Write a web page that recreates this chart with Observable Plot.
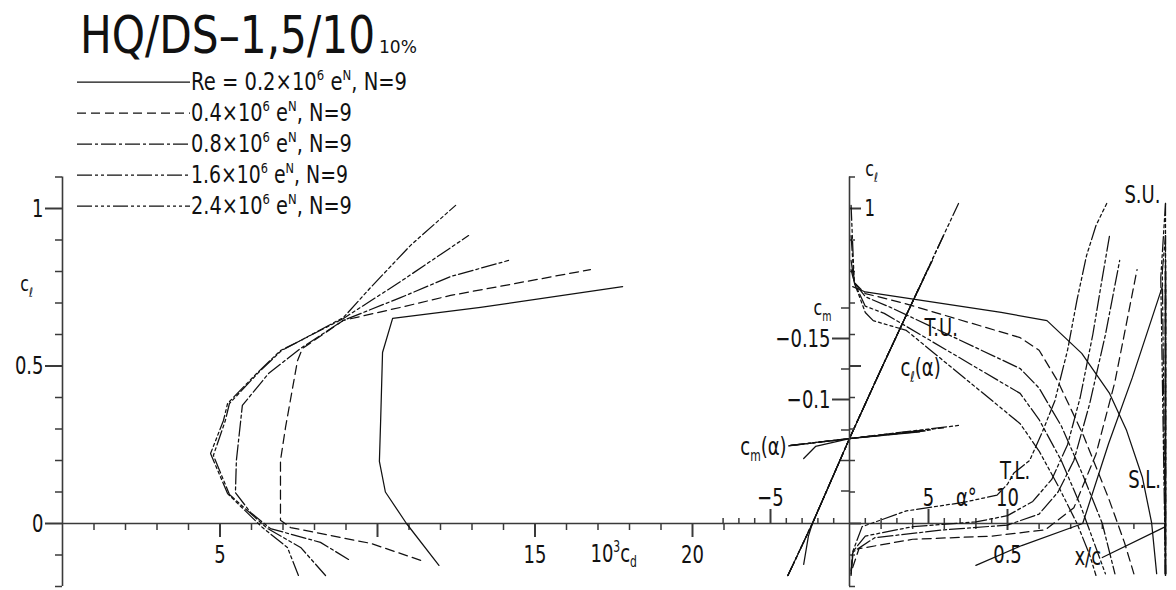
<!DOCTYPE html>
<html>
<head>
<meta charset="utf-8">
<script src="https://cdn.jsdelivr.net/npm/d3@7"></script>
<script src="https://cdn.jsdelivr.net/npm/@observablehq/plot@0.6"></script>
<style>
  html, body { margin: 0; background: #fff; }
  #chart { position: relative; width: 1176px; height: 590px; overflow: hidden; background: #fff; }
  #chart svg { position: absolute; left: 0; top: 0; }
</style>
</head>
<body>
<div id="chart"></div>
<script>
// ---- section name and test conditions ----
const airfoil = "HQ/DS–1,5/10";
const thickness = "10%";
const reynolds = ["0.2", "0.4", "0.8", "1.6", "2.4"];           // Re ×10^6, e^N with N = 9
const dashes = [null, "9,5", "15,3,3,3", "15,3,3,3,3,3", "15,3,3,3,3,3,3,3"];

// ---- drag polar: 10^3 cd against cl ----
const polarCd = [
  [11.95, 10.92, 10.25, 10.06, 10.10, 10.16, 10.48, 13.27, 17.78],
  [11.37, 9.78, 8.50, 7.24, 6.92, 6.92, 7.08, 7.46, 7.62, 8.92, 10.73, 12.32, 16.76],
  [9.08, 8.19, 6.60, 5.97, 5.49, 5.52, 5.71, 6.54, 7.56, 8.92, 10.73, 12.32, 14.16],
  [8.35, 7.56, 6.51, 5.30, 4.79, 5.17, 5.30, 6.22, 6.95, 7.56, 8.92, 10.73, 12.89],
  [7.49, 7.14, 6.35, 5.24, 4.70, 5.11, 5.24, 6.19, 6.92, 7.56, 8.92, 9.78, 11.05, 12.48]
];
const polarCl = [
  [-0.133, 0, 0.10, 0.197, 0.327, 0.543, 0.651, 0.686, 0.752],
  [-0.117, -0.063, -0.038, -0.013, 0.01, 0.2, 0.305, 0.517, 0.556, 0.645, 0.686, 0.724, 0.806],
  [-0.114, -0.06, -0.016, 0.035, 0.098, 0.2, 0.375, 0.476, 0.556, 0.645, 0.717, 0.784, 0.835],
  [-0.165, -0.076, -0.016, 0.092, 0.216, 0.327, 0.381, 0.479, 0.549, 0.581, 0.651, 0.768, 0.914],
  [-0.165, -0.076, -0.013, 0.095, 0.222, 0.327, 0.381, 0.479, 0.549, 0.581, 0.654, 0.749, 0.883, 1.01]
];

// ---- lift curve: alpha (deg) against cl ----
const liftAlpha = [
  [-2.9, -2.6, -2.35, 0, 2, 4, 4.45],
  [-3.9, -2.35, 0, 2, 4, 4.95],
  [-3.9, -2.35, 0, 2, 4, 5.25],
  [-3.9, -2.35, 0, 2, 4, 5.95],
  [-3.9, -2.35, 0, 2, 4, 6.9]
];
const liftCl = [
  [-0.13, -0.04, 0, 0.27, 0.49, 0.705, 0.752],
  [-0.165, 0, 0.27, 0.49, 0.705, 0.806],
  [-0.165, 0, 0.27, 0.49, 0.705, 0.835],
  [-0.165, 0, 0.27, 0.49, 0.705, 0.914],
  [-0.165, 0, 0.27, 0.49, 0.705, 1.016]
];

// ---- pitching moment: alpha (deg) against cm ----
const momentAlpha = [
  [-2.9, -2.15, 0, 4.45],
  [-3.7, 0, 4.95],
  [-3.75, 0, 5.25],
  [-3.8, 0, 5.95],
  [-3.85, 0, 6.9]
];
const momentCm = [
  [-0.0516, -0.0615, -0.068, -0.0735],
  [-0.0623, -0.068, -0.0745],
  [-0.0623, -0.068, -0.0752],
  [-0.0622, -0.068, -0.0768],
  [-0.062, -0.068, -0.0787]
];

// ---- transition on the upper surface (T.U.): x/c against cl ----
const tuXc = [
  [0.01, 0.05, 0.48, 0.625, 0.735, 0.823, 0.877, 0.927, 0.956, 0.972],
  [0.005, 0.015, 0.05, 0.17, 0.54, 0.6, 0.66, 0.74, 0.82, 0.87, 0.9],
  [0.005, 0.015, 0.05, 0.13, 0.54, 0.6, 0.67, 0.74, 0.8, 0.84],
  [0.005, 0.015, 0.05, 0.11, 0.54, 0.6, 0.67, 0.73, 0.77, 0.81],
  [0.005, 0.015, 0.05, 0.075, 0.18, 0.54, 0.6, 0.66, 0.72, 0.76, 0.78]
];
const tuCl = [
  [0.752, 0.735, 0.67, 0.644, 0.54, 0.413, 0.295, 0.146, 0.003, -0.159],
  [0.806, 0.765, 0.73, 0.70, 0.59, 0.55, 0.45, 0.28, 0.08, -0.06, -0.16],
  [0.835, 0.765, 0.72, 0.686, 0.492, 0.43, 0.31, 0.15, 0.0, -0.16],
  [0.914, 0.765, 0.69, 0.667, 0.413, 0.33, 0.2, 0.06, -0.05, -0.16],
  [1.01, 0.765, 0.67, 0.644, 0.613, 0.317, 0.23, 0.12, 0.0, -0.1, -0.165]
];

// ---- transition on the lower surface (T.L.) ----
const tlXc = [
  [0.4, 0.545, 0.738, 0.82, 0.895, 0.99],
  [0.01, 0.03, 0.2, 0.45, 0.62, 0.71, 0.78, 0.84, 0.91],
  [0.005, 0.012, 0.08, 0.3, 0.5, 0.6, 0.66, 0.71, 0.76, 0.81, 0.855],
  [0.005, 0.01, 0.05, 0.2, 0.4, 0.5, 0.58, 0.64, 0.69, 0.73, 0.77, 0.8, 0.823],
  [0.005, 0.01, 0.04, 0.18, 0.36, 0.467, 0.5, 0.52, 0.57, 0.61, 0.65, 0.69, 0.72, 0.75, 0.78, 0.814]
];
const tlCl = [
  [-0.133, -0.07, 0, 0.254, 0.463, 0.752],
  [-0.14, -0.08, -0.05, -0.04, -0.02, 0.05, 0.22, 0.45, 0.806],
  [-0.15, -0.09, -0.045, -0.02, -0.005, 0.03, 0.1, 0.2, 0.38, 0.6, 0.835],
  [-0.16, -0.09, -0.04, -0.01, 0.005, 0.025, 0.07, 0.14, 0.25, 0.4, 0.6, 0.78, 0.914],
  [-0.165, -0.09, -0.01, 0.04, 0.067, 0.09, 0.125, 0.16, 0.2, 0.29, 0.39, 0.55, 0.71, 0.85, 0.946, 1.016]
];

// ---- laminar separation, upper (S.U.) and lower (S.L.) surface ----
const suXc = [[1, 1], [1, 1], [1, 1], [1, 0.99, 1], [1, 0.985, 1]];
const suCl = [[-0.159, 0.752], [-0.16, 0.806], [-0.16, 0.835], [-0.16, 0.8, 0.914], [-0.165, 0.78, 1.016]];
const slXc = [[0.8, 1, 1], [1, 1], [1, 1], [1, 1], [1, 1]];
const slCl = [[-0.108, -0.01, 0.752], [-0.16, 0.806], [-0.16, 0.835], [-0.16, 0.914], [-0.165, 1.016]];

// ---- axis ticks ----
const clMinor = [-0.2, -0.1, 0.1, 0.2, 0.3, 0.4, 0.6, 0.7, 0.8, 0.9, 1.1];
const clMajor = [0, 0.5, 1];
const clLabels = ["0", "0.5", "1"];
const cdMinor = [1, 2, 3, 4, 6, 7, 8, 9, 11, 12, 13, 14, 16, 17, 18, 19, 21];
const cdMajor = [5, 10, 15, 20];
const cdLabelAt = [5, 15, 20];
const alphaMinor = [-8, -7, -6, -4, -3, -2, -1, 1, 2, 3, 4, 6, 7, 8, 9];
const alphaMajor = [-5, 5, 10];
const alphaLabels = ["−5", "5", "10"];
const cmMinor = [-0.175, -0.125, -0.075, -0.05, -0.025];
const cmMajor = [-0.15, -0.1];
const cmLabels = ["−0.15", "−0.1"];
const xcMinor = [0.1, 0.2, 0.3, 0.4, 0.6, 0.7, 0.8, 0.9];
const xcMajor = [0.5];

// ---------------------------------------------------------------
const FONT = "'DejaVu Sans', sans-serif";
const ink = "#111";
const axisInk = "#3a3a3a";
const W = 1176, H = 590;
const clY = {domain: [0, 1], range: [523, 208]};
const alphaX = {domain: [0, 10], range: [849, 1007]};

const zip = (xs, ys) => xs.map((x, i) => ({x, y: ys[i]}));
const family = (xs, ys) => reynolds.map((re, i) =>
  Plot.line(zip(xs[i], ys[i]), {x: "x", y: "y", stroke: ink, strokeWidth: 1.25,
    strokeDasharray: dashes[i] ?? undefined}));

// short tick marks on a vertical axis (left / right reach in px)
const hTicks = (values, at, left, right, w = 1.5) => Plot.ruleY(values,
  {y: d => d, x1: at, x2: at, insetLeft: -left, insetRight: -right, stroke: axisInk, strokeWidth: w});
// short tick marks on a horizontal axis (up / down reach in px)
const vTicks = (values, at, up, down, w = 1.5) => Plot.ruleX(values,
  {x: d => d, y1: at, y2: at, insetTop: -up, insetBottom: -down, stroke: axisInk, strokeWidth: w});
const label = (text, x, y, opts = {}) => Plot.text([text], {x, y, text: d => d, fill: ink, fontSize: 25, ...opts});

function layer(x, y, marks) {
  return Plot.plot({
    width: W, height: H,
    x: {...x, axis: null},
    y: {...y, axis: null},
    style: {background: "transparent", overflow: "visible", fontFamily: FONT},
    marks
  });
}

// turn _x / ^x into sub- and superscripts
function scripts(t) {
  const s = t.textContent;
  if (!/[_^]/.test(s)) return;
  t.textContent = "";
  const re = /([_^])(.)|([^_^]+)/g;
  let m, cur = 0;
  while ((m = re.exec(s))) {
    const ts = document.createElementNS("http://www.w3.org/2000/svg", "tspan");
    if (m[3]) {
      ts.textContent = m[3];
      ts.setAttribute("dy", -cur); cur = 0;
    } else {
      const off = m[1] === "_" ? 6 : -10;
      ts.textContent = m[2];
      ts.setAttribute("dy", off - cur); cur = off;
      ts.style.fontSize = "0.6em";
    }
    t.appendChild(ts);
  }
}

// narrow the glyphs horizontally, like a drafting stencil font
function typeset(svg, squeeze) {
  svg.querySelectorAll("text").forEach(t => {
    scripts(t);
    const tr = t.getAttribute("transform");
    if (tr) t.setAttribute("transform", tr + ` scale(${squeeze},1)`);
  });
  return svg;
}

const axisLine = {stroke: axisInk, strokeWidth: 1.6};

// drag polar
const polar = layer({domain: [0, 20], range: [62, 692]}, clY, [
  Plot.ruleX([0], {y1: -0.2, y2: 1.1, ...axisLine}),
  Plot.ruleY([0], {x1: 0, x2: 21, ...axisLine}),
  hTicks(clMinor, 0, 7, 0), hTicks(clMajor, 0, 17, 0, 2),
  vTicks(cdMinor, 0, 0, 7), vTicks(cdMajor, 0, 0, 14, 2),
  Plot.text(clMajor, {x: 0, y: d => d, text: (d, i) => clLabels[i], dx: -19, textAnchor: "end", fontSize: 25, fill: ink}),
  Plot.text(cdLabelAt, {x: d => d, y: 0, text: d => String(d), dy: 31, fontSize: 25, fill: ink}),
  label("c_ℓ", 0, 0.762, {dx: -36, fontSize: 22}),
  label("10^3c_d", 16.76, 0, {dy: 30, textAnchor: "start"}),
  ...family(polarCd, polarCl)
]);

// lift curve
const lift = layer(alphaX, clY, [
  Plot.ruleY([0], {x1: -8, x2: 0, ...axisLine}),
  vTicks(alphaMinor, 0, 5, 0), vTicks(alphaMajor, 0, 14, 0, 2),
  Plot.text(alphaMajor, {x: d => d, y: 0, text: (d, i) => alphaLabels[i], dy: -26, fontSize: 25, fill: ink}),
  label("α°", 7.4, 0, {dy: -26}),
  label("c_ℓ(α)", 4.5, 0.495),
  ...family(liftAlpha, liftCl)
]);

// pitching moment
const moment = layer(alphaX, {domain: [0, -0.1], range: [521, 399]}, [
  hTicks(cmMinor, 0, 8, 0), hTicks(cmMajor, 0, 17, 0, 2),
  Plot.text(cmMajor, {x: 0, y: d => d, text: (d, i) => cmLabels[i], dx: -19, textAnchor: "end", fontSize: 25, fill: ink}),
  label("c_m", 0, -0.175, {dx: -27, fontSize: 22}),
  label("c_m(α)", -3.92, -0.0607, {textAnchor: "end", dx: -1}),
  ...family(momentAlpha, momentCm)
]);

// transition and separation positions
const transition = layer({domain: [0, 1], range: [849, 1165]}, clY, [
  Plot.ruleX([0], {y1: -0.2, y2: 1.1, ...axisLine}),
  Plot.ruleY([0], {x1: 0, x2: 1, ...axisLine}),
  hTicks(clMinor, 0, 0, 6), hTicks(clMajor, 0, 0, 12, 2),
  vTicks(xcMinor, 0, 0, 6), vTicks(xcMajor, 0, 0, 7, 2),
  label("1", 0, 1, {dx: 15, textAnchor: "start", fontSize: 23}),
  label("c_ℓ", 0.07, 1.127, {fontSize: 22}),
  label("T.U.", 0.29, 0.622),
  label("T.L.", 0.524, 0.168),
  label("S.U.", 0.927, 1.044),
  label("S.L.", 0.934, 0.137),
  label("0.5", 0.5, 0, {dy: 31}),
  label("x/c", 0.754, 0, {dy: 33}),
  ...family(tuXc, tuCl),
  ...family(tlXc, tlCl),
  ...family(suXc, suCl),
  ...family(slXc, slCl)
]);

const chart = document.getElementById("chart");
for (const svg of [polar, lift, moment, transition]) chart.appendChild(typeset(svg, 0.72));

// title and legend, each text narrowed to its drafted width
const head = d3.select(chart).append("svg")
  .attr("width", 440).attr("height", 225)
  .style("font-family", FONT).attr("fill", ink);
function fitted(x, y, size, width, text) {
  const t = head.append("text").attr("font-size", size).text(text);
  scripts(t.node());
  const k = width / t.node().getComputedTextLength();
  t.attr("transform", `translate(${x},${y}) scale(${k.toFixed(3)},1)`);
  return t;
}
fitted(80, 53, 52, 295, airfoil);
fitted(379, 53, 17, 38, thickness);
const legendWidths = [216, 161, 161, 157, 161];
reynolds.forEach((re, i) => {
  const y = 82 + 31 * i;
  head.append("line").attr("x1", 77).attr("x2", 190).attr("y1", y).attr("y2", y)
    .attr("stroke", ink).attr("stroke-width", 1.25)
    .attr("stroke-dasharray", dashes[i]);
  fitted(191, y + 8, 24, legendWidths[i], (i === 0 ? "Re = " : "") + re + "×10^6 e^N, N=9");
});
</script>
</body>
</html>
